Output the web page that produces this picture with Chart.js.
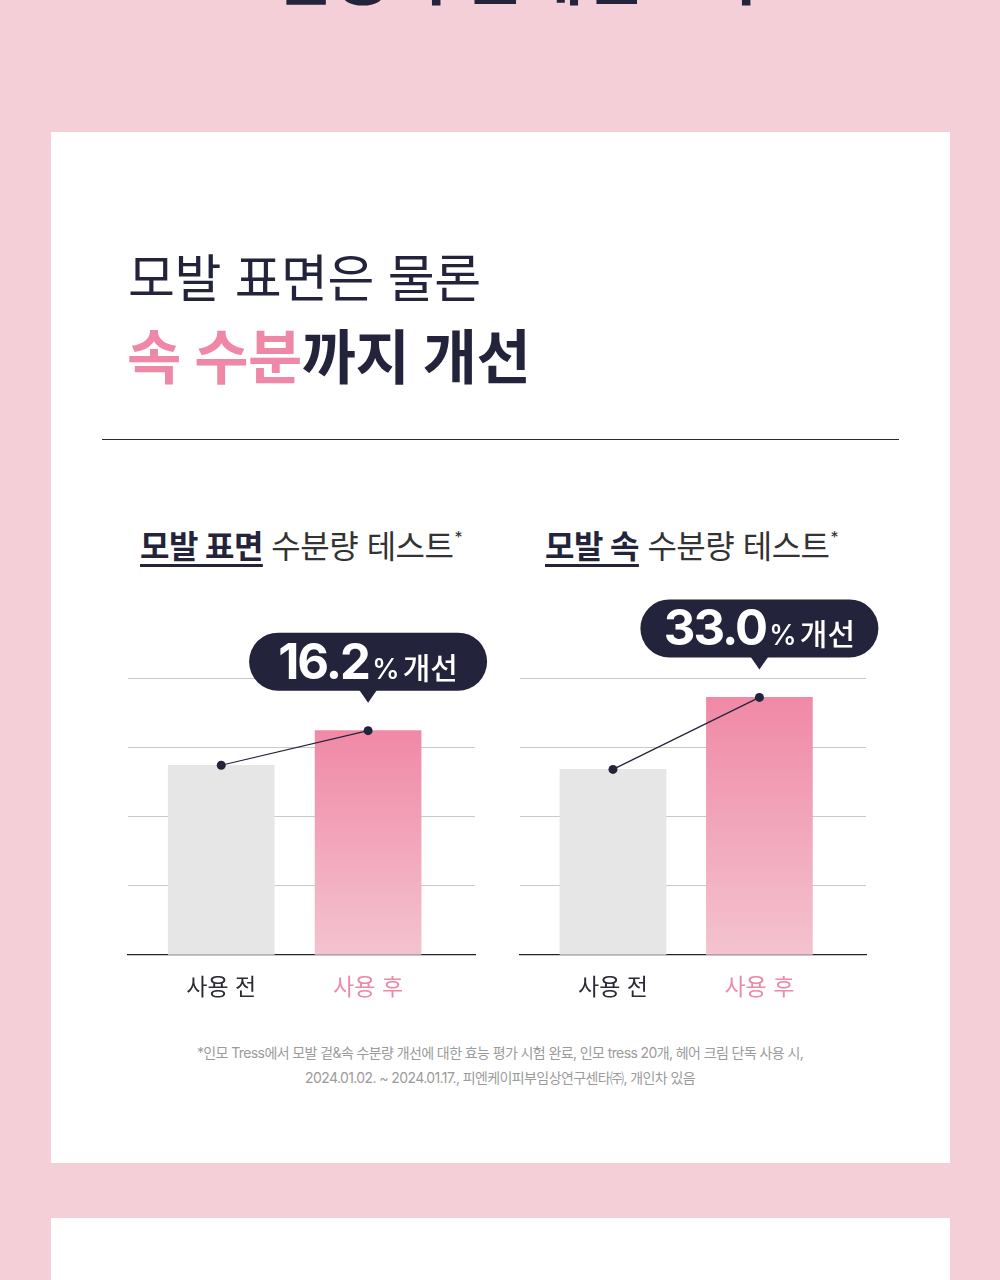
<!DOCTYPE html>
<html lang="ko">
<head>
<meta charset="utf-8">
<script src="https://cdn.jsdelivr.net/npm/chart.js@4"></script>
<style>
  html, body { margin: 0; padding: 0; }
  body {
    width: 1000px; height: 1280px; overflow: hidden; position: relative;
    background: #f4cfd8;
    font-family: Inter, "Noto Sans CJK KR", sans-serif;
    color: #23233b;
  }
  .abs { position: absolute; white-space: nowrap; }
  .card { position: absolute; left: 51px; width: 899px; background: #fff; }
  .head1 { left: 128px; top: 253px; font-size: 51px; line-height: 1; font-weight: 400; letter-spacing: -0.5px; }
  .head2 { left: 127px; top: 328px; font-size: 59px; line-height: 1; font-weight: 700; letter-spacing: -0.5px; }
  .pink { color: #ef87a6; }
  .rule { left: 102px; top: 439px; width: 797px; height: 1px; background: #2b2b36; }
  .sub { top: 529px; font-size: 32px; line-height: 1; color: #333; letter-spacing: -0.5px; }
  .sub b {
    color: #23233b; font-weight: 700;
    text-decoration: underline; text-decoration-thickness: 3px; text-underline-offset: 6px;
  }
  .sub sup { font-size: 16px; vertical-align: 15px; margin-left: 1px; }
  .note { left: 0; width: 1000px; top: 1040px; text-align: center; font-size: 14px; line-height: 25px; color: #9b9b9b; letter-spacing: -0.6px; }
  canvas { position: absolute; }
</style>
</head>
<body>
  <div class="abs" style="left:274px; top:-56px; font-size:64px; line-height:1; font-weight:700;">임상 수분개선효과</div>

  <div class="card" style="top:132px; height:1031px;"></div>
  <div class="card" style="top:1218px; height:70px;"></div>

  <div class="abs head1">모발 표면은 물론</div>
  <div class="abs head2"><span class="pink">속 수분</span>까지 개선</div>
  <div class="abs rule"></div>

  <div class="abs sub" style="left:140px;"><b>모발 표면</b> 수분량 테스트<sup>*</sup></div>
  <div class="abs sub" style="left:545px;"><b>모발 속</b> 수분량 테스트<sup>*</sup></div>

  <canvas id="chartSurface" width="380" height="440" style="left:120px; top:580px;"></canvas>
  <canvas id="chartInner" width="380" height="440" style="left:512px; top:580px;"></canvas>

  <div class="abs note">*인모 Tress에서 모발 겉&amp;속 수분량 개선에 대한 효능 평가 시험 완료, 인모 tress 20개, 헤어 크림 단독 사용 시,<br>2024.01.02. ~ 2024.01.17., 피엔케이피부임상연구센타㈜, 개인차 있음</div>

<script>
// categories and values (relative moisture, axis 0-100)
const categories = ['사용 전', '사용 후'];
const surfaceValues = [68.5, 81];
const innerValues = [67, 93];
const gainLabels = ['16.2', '33.0'];
const yTicks = [0, 25, 50, 75, 100];

const NAVY = '#23233b';
const GRAY_BAR = '#e6e6e6';
const PINK_TOP = '#f089a6';
const PINK_BOTTOM = '#f4c3d0';
const LABEL_PINK = '#ec8aa8';

function toPoints(values) {
  return values.map((v, i) => ({ x: i + 1, y: v }));
}

// draws the dark speech bubble above the "after" point
const bubblePlugin = {
  id: 'bubble',
  afterDatasetsDraw(chart, args, opts) {
    const meta = chart.getDatasetMeta(1);
    const pt = meta.data[1];
    if (!pt) return;
    const ctx = chart.ctx;
    const w = 238, h = 58;
    const tipY = pt.y - 28;
    const bottom = tipY - 12;
    const top = bottom - h;
    const left = pt.x - w / 2;

    ctx.save();
    ctx.fillStyle = NAVY;
    ctx.beginPath();
    ctx.roundRect(left, top, w, h, h / 2);
    ctx.fill();
    ctx.beginPath();
    ctx.moveTo(pt.x - 9, bottom - 1);
    ctx.lineTo(pt.x + 9, bottom - 1);
    ctx.lineTo(pt.x, tipY);
    ctx.closePath();
    ctx.fill();

    const bigFont = '700 49px Inter, "Noto Sans CJK KR", sans-serif';
    const pctFont = '500 28px Inter, "Noto Sans CJK KR", sans-serif';
    const wordFont = '500 30px Inter, "Noto Sans CJK KR", sans-serif';
    const numText = opts.text;
    ctx.letterSpacing = '-2px';
    ctx.font = bigFont;
    const w1 = ctx.measureText(numText).width;
    ctx.letterSpacing = '0px';
    ctx.font = pctFont;
    const w2 = ctx.measureText('%').width;
    ctx.font = wordFont;
    const w3 = ctx.measureText('개선').width;
    const gap1 = 3, gap2 = 3;
    const startX = pt.x - (w1 + gap1 + w2 + gap2 + w3) / 2;
    const baseY = top + h / 2 + 17;
    ctx.fillStyle = '#ffffff';
    ctx.textBaseline = 'alphabetic';
    ctx.textAlign = 'left';
    ctx.letterSpacing = '-2px';
    ctx.font = bigFont;
    ctx.fillText(numText, startX, baseY);
    ctx.letterSpacing = '0px';
    ctx.font = pctFont;
    ctx.fillText('%', startX + w1 + gap1, baseY);
    ctx.font = wordFont;
    ctx.fillText('개선', startX + w1 + gap1 + w2 + gap2, baseY);
    ctx.restore();
  }
};

function makeChart(canvasId, values, gainText, padLeft, padRight) {
  return new Chart(document.getElementById(canvasId), {
    type: 'bar',
    data: {
      datasets: [
        {
          type: 'bar',
          data: toPoints(values),
          barThickness: 106,
          order: 2,
          backgroundColor: (c) => {
            if (c.dataIndex === 0) return GRAY_BAR;
            const chart = c.chart;
            const area = chart.chartArea;
            if (!area || !chart.scales.y) return PINK_TOP;
            const yTop = chart.scales.y.getPixelForValue(values[1]);
            const g = chart.ctx.createLinearGradient(0, yTop, 0, area.bottom);
            g.addColorStop(0, PINK_TOP);
            g.addColorStop(1, PINK_BOTTOM);
            return g;
          }
        },
        {
          type: 'line',
          data: toPoints(values),
          order: 1,
          borderColor: NAVY,
          borderWidth: 1.2,
          pointRadius: 4.5,
          pointBackgroundColor: NAVY,
          pointBorderWidth: 0,
          fill: false
        }
      ]
    },
    options: {
      responsive: false,
      animation: false,
      layout: { padding: { left: padLeft, right: padRight, top: 98, bottom: 10 } },
      plugins: {
        legend: { display: false },
        tooltip: { enabled: false },
        bubble: { text: gainText }
      },
      scales: {
        x: {
          type: 'linear',
          offset: false,
          min: 0.365,
          max: 2.728,
          grid: { display: false, drawTicks: false },
          border: { display: true, color: '#22222c', width: 1.2 },
          afterFit: (s) => { s.height = 55; },
          ticks: {
            stepSize: 1,
            includeBounds: false,
            autoSkip: false,
            maxRotation: 0,
            padding: 19,
            font: { size: 23, family: 'Inter, "Noto Sans CJK KR", sans-serif', weight: 400 },
            color: (c) => (c.tick && c.tick.value === 2 ? LABEL_PINK : '#2a2a33'),
            callback: (v) => categories[Math.round(v) - 1] || ''
          }
        },
        y: {
          min: yTicks[0],
          max: yTicks[yTicks.length - 1],
          afterBuildTicks: (s) => { s.ticks = yTicks.map((v) => ({ value: v })); },
          afterFit: (s) => { s.width = 0; },
          border: { display: false },
          grid: {
            drawTicks: false,
            lineWidth: 1,
            color: (c) => (c.tick && c.tick.value === 0 ? 'rgba(0,0,0,0)' : '#c9c9c9')
          },
          ticks: { display: false }
        }
      }
    },
    plugins: [bubblePlugin]
  });
}

makeChart('chartSurface', surfaceValues, gainLabels[0], 8, 25);
makeChart('chartInner', innerValues, gainLabels[1], 8, 26);
</script>
</body>
</html>
